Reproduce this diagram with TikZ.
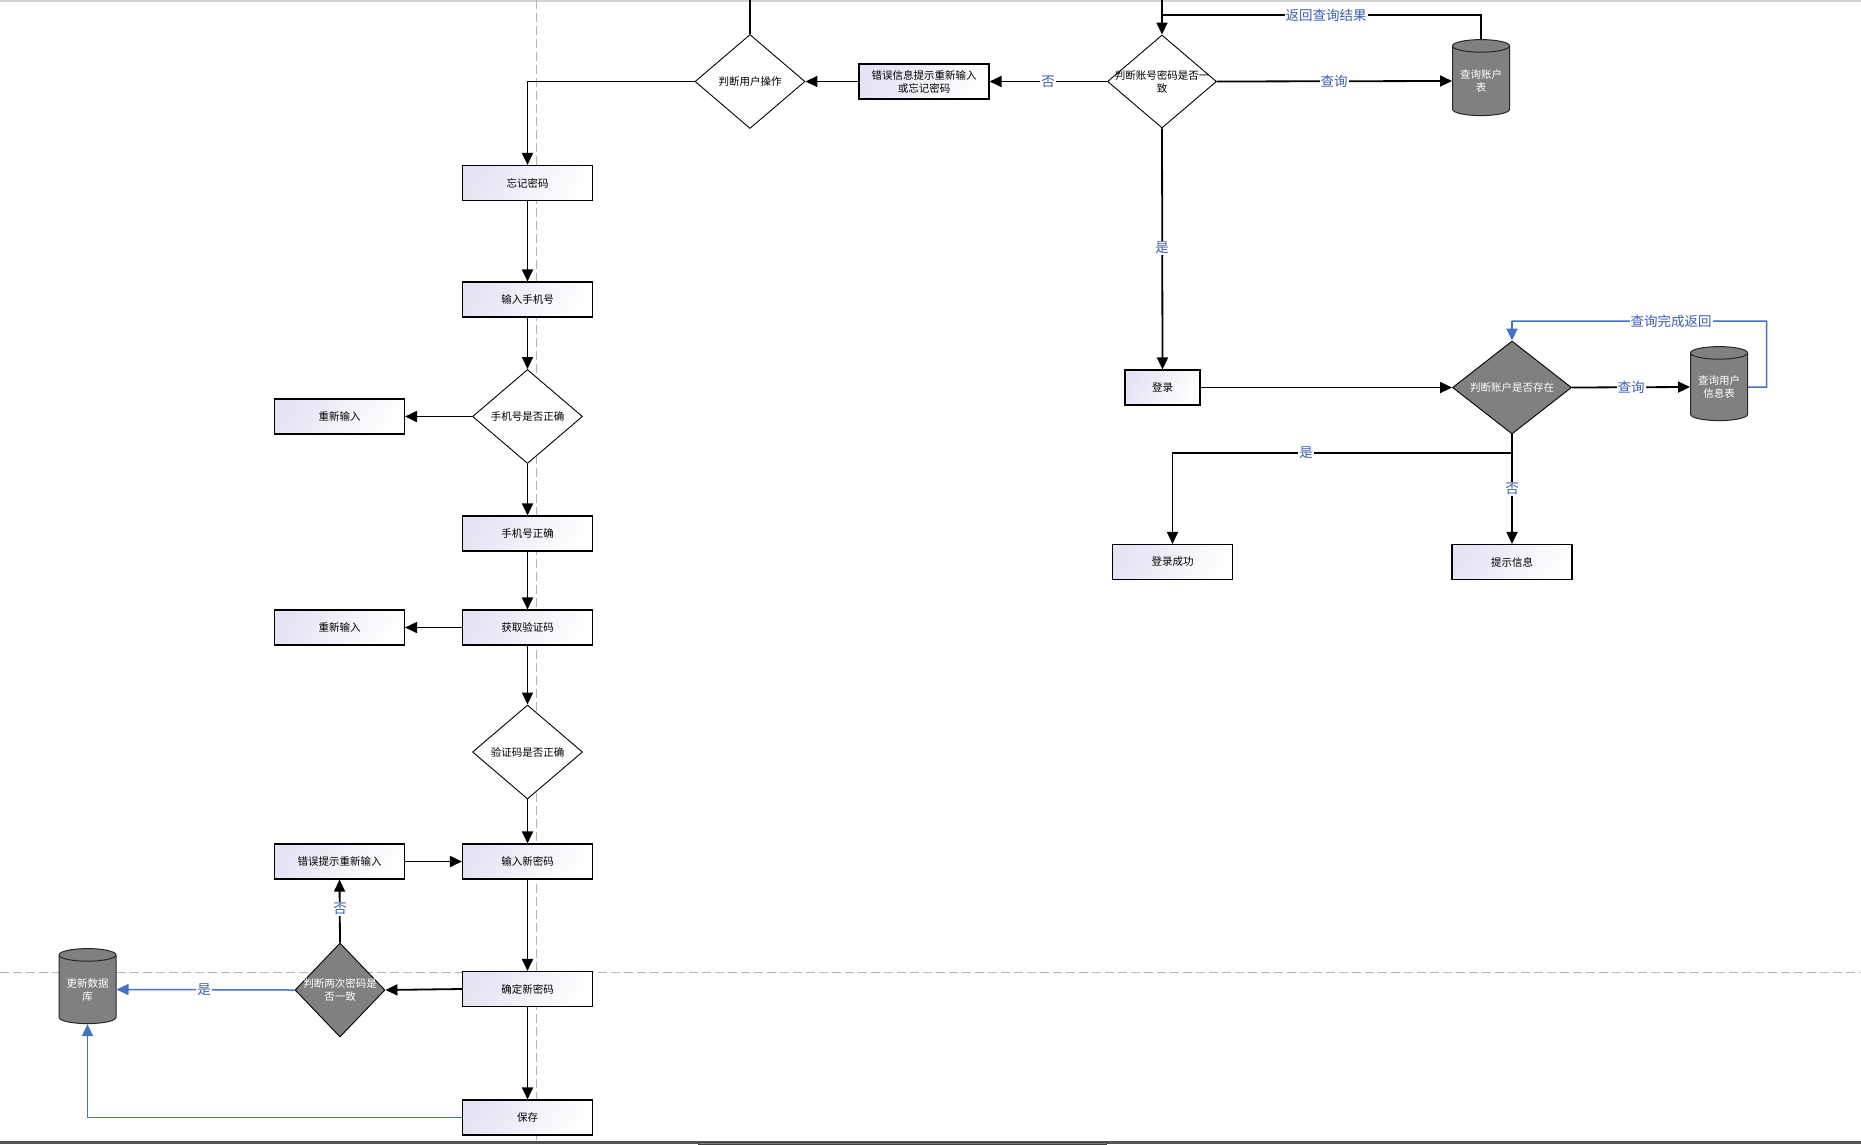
\documentclass[tikz,border=0pt]{standalone}
\usepackage{fontspec}
\setmainfont{Noto Sans CJK SC}
\usetikzlibrary{shapes.geometric,arrows.meta,calc}
\definecolor{lnblue}{HTML}{4472C4}
\definecolor{lbblue}{HTML}{3A5FB0}
\definecolor{boxl}{HTML}{E4E4F4}
\definecolor{dgray}{HTML}{808080}
\definecolor{dashgray}{HTML}{B4B4B4}
\begin{document}
\begin{tikzpicture}[x=1pt,y=-1pt,
  stepbox/.style={rectangle, draw=black, line width=1.1pt, shading=axis, left color=boxl, right color=white, shading angle=60,
    minimum width=130pt, minimum height=35pt, inner sep=0pt,
    font=\fontsize{10.5}{13}\selectfont, align=center},
  dia/.style={diamond, draw=black, line width=0.9pt, fill=white, inner sep=0pt,
    minimum width=110pt, minimum height=94pt},
  gdia/.style={dia, fill=dgray},
  dtext/.style={font=\fontsize{10.5}{13}\selectfont, align=center, inner sep=0pt},
  wtext/.style={dtext, text=white},
  db/.style={cylinder, shape border rotate=90, aspect=0.3, draw=black!85, line width=1pt,
    fill=dgray, minimum width=57pt, minimum height=76pt, text=white,
    font=\fontsize{10.5}{13}\selectfont, align=center, inner sep=0pt},
  flow/.style={line width=1.8pt, -{Triangle[length=12pt,width=11pt]}},
  plain/.style={line width=1.8pt},
  bflow/.style={line width=1.5pt, draw=lnblue, -{Triangle[length=12pt,width=11pt,fill=lnblue]}},
  bplain/.style={line width=1.5pt, draw=lnblue},
  lab/.style={fill=white, text=lbblue, font=\fontsize{13.5}{14}\selectfont, inner sep=1pt}
]
\useasboundingbox (0,0) rectangle (1861,1144);
\fill[white] (0,0) rectangle (1861,1144);
% frame lines
\draw[gray!35, line width=1.5pt] (0,0.75) -- (1861,0.75);
\fill[black!67] (0,1141) rectangle (1861,1144);
\fill[black!50, draw=black!75, line width=0.5pt] (698,1142) rectangle (1106,1144);
% swimlane dashes
\draw[dashgray, line width=1pt, dash pattern=on 9pt off 4pt] (536.5,0) -- (536.5,1141);
\draw[dashgray, line width=1pt, dash pattern=on 9pt off 4pt] (0,972) -- (1861,972);

% ---------- top right part ----------
\node[dia, label={[dtext]center:判断用户操作}] (dUser) at (750,81.5) {};
\node[stepbox] (boxErr) at (924,81.5) {错误信息提示重新输入\\或忘记密码};
\node[dia, minimum width=109pt, minimum height=93pt, label={[dtext]center:判断账号密码是否一\\致}] (dAcct) at (1162,81.5) {};
\node[db] (db1) at (1481,81) {查询账户\\表};
\node[stepbox, minimum width=75pt] (login) at (1162.5,387.5) {登录};
\node[gdia, minimum width=119pt, minimum height=93pt, label={[wtext]center:判断账户是否存在}] (dExist) at (1512,387.5) {};
\node[db, minimum height=74pt] (db2) at (1719,387) {查询用户\\信息表};
\node[stepbox, minimum width=120pt] (ok) at (1172.5,562) {登录成功};
\node[stepbox, minimum width=120pt] (info) at (1512,562) {提示信息};

% ---------- left column ----------
\node[stepbox] (forget) at (527.5,183) {忘记密码};
\node[stepbox] (phone) at (527.5,299.5) {输入手机号};
\node[dia, label={[dtext]center:手机号是否正确}] (dPhone) at (527.5,416.5) {};
\node[stepbox] (re1) at (339.5,416.5) {重新输入};
\node[stepbox] (phoneOk) at (527.5,533.5) {手机号正确};
\node[stepbox] (code) at (527.5,627.5) {获取验证码};
\node[stepbox] (re2) at (339.5,627.5) {重新输入};
\node[dia, label={[dtext]center:验证码是否正确}] (dCode) at (527.5,752) {};
\node[stepbox] (newpw) at (527.5,861.5) {输入新密码};
\node[stepbox] (errre) at (339.5,861.5) {错误提示重新输入};
\node[stepbox] (confirm) at (527.5,989) {确定新密码};
\node[gdia, minimum width=90pt, minimum height=94pt, label={[wtext]center:判断两次密码是\\否一致}] (dTwice) at (340,990) {};
\node[db, minimum height=75pt] (db3) at (87.5,989.5) {更新数据\\库};
\node[stepbox] (save) at (527.5,1117.5) {保存};

% ---------- coordinates ----------
\coordinate (topU) at (750,0);
\coordinate (topA) at (1162,0);
\coordinate (retA) at (1162,15);
\coordinate (loopR) at (1766.5,387);
\coordinate (loopT) at (1512,321);
\coordinate (splitE) at (1512,453);

% ---------- connectors ----------
\draw[plain] (topU) -- (dUser.north);
\draw[flow] (topA) -- (dAcct.north);
\draw[plain] (db1.north) |- (retA);
\draw[flow] (dAcct.east) -- (db1.west);
\draw[flow] (dAcct.west) -- (boxErr.east);
\draw[flow] (boxErr.west) -- (dUser.east);
\draw[flow] (dUser.west) -| (forget.north);
\draw[flow] (dAcct.south) -- (login.north);
\draw[flow] (login.east) -- (dExist.west);
\draw[flow] (dExist.east) -- (db2.west);
\draw[bplain] (db2.east) -- (loopR) |- (loopT);
\draw[bflow] (loopT) -- (dExist.north);
\draw[plain] (dExist.south) -- (splitE);
\draw[flow] (splitE) -| (ok.north);
\draw[flow] (splitE) -- (info.north);

\draw[flow] (forget) -- (phone);
\draw[flow] (phone) -- (dPhone);
\draw[flow] (dPhone) -- (phoneOk);
\draw[flow] (phoneOk) -- (code);
\draw[flow] (code) -- (dCode);
\draw[flow] (dCode) -- (newpw);
\draw[flow] (newpw) -- (confirm);
\draw[flow] (confirm) -- (save);
\draw[flow] (dPhone.west) -- (re1.east);
\draw[flow] (code.west) -- (re2.east);
\draw[flow] (errre.east) -- (newpw.west);
\draw[flow] (confirm.west) -- (dTwice.east);
\draw[flow] (dTwice.north) -- (errre.south);
\draw[bflow] (dTwice.west) -- (db3.east);
\draw[bflow] (save.west) -| (db3.south);

% ---------- labels ----------
\node[lab] (lRet) at (1326,15) {返回查询结果};
\node[lab] (lQ1) at (1334,81.5) {查询};
\node[lab] (lN1) at (1048,81.5) {否};
\node[lab] (lY1) at (1162,248) {是};
\node[lab] (lQ2) at (1631,387.5) {查询};
\node[lab] (lBack) at (1671,321) {查询完成返回};
\node[lab] (lY2) at (1306,453) {是};
\node[lab] (lN2) at (1512,489) {否};
\node[lab] (lN3) at (340,909) {否};
\node[lab] (lY3) at (204,990) {是};
\end{tikzpicture}
\end{document}
